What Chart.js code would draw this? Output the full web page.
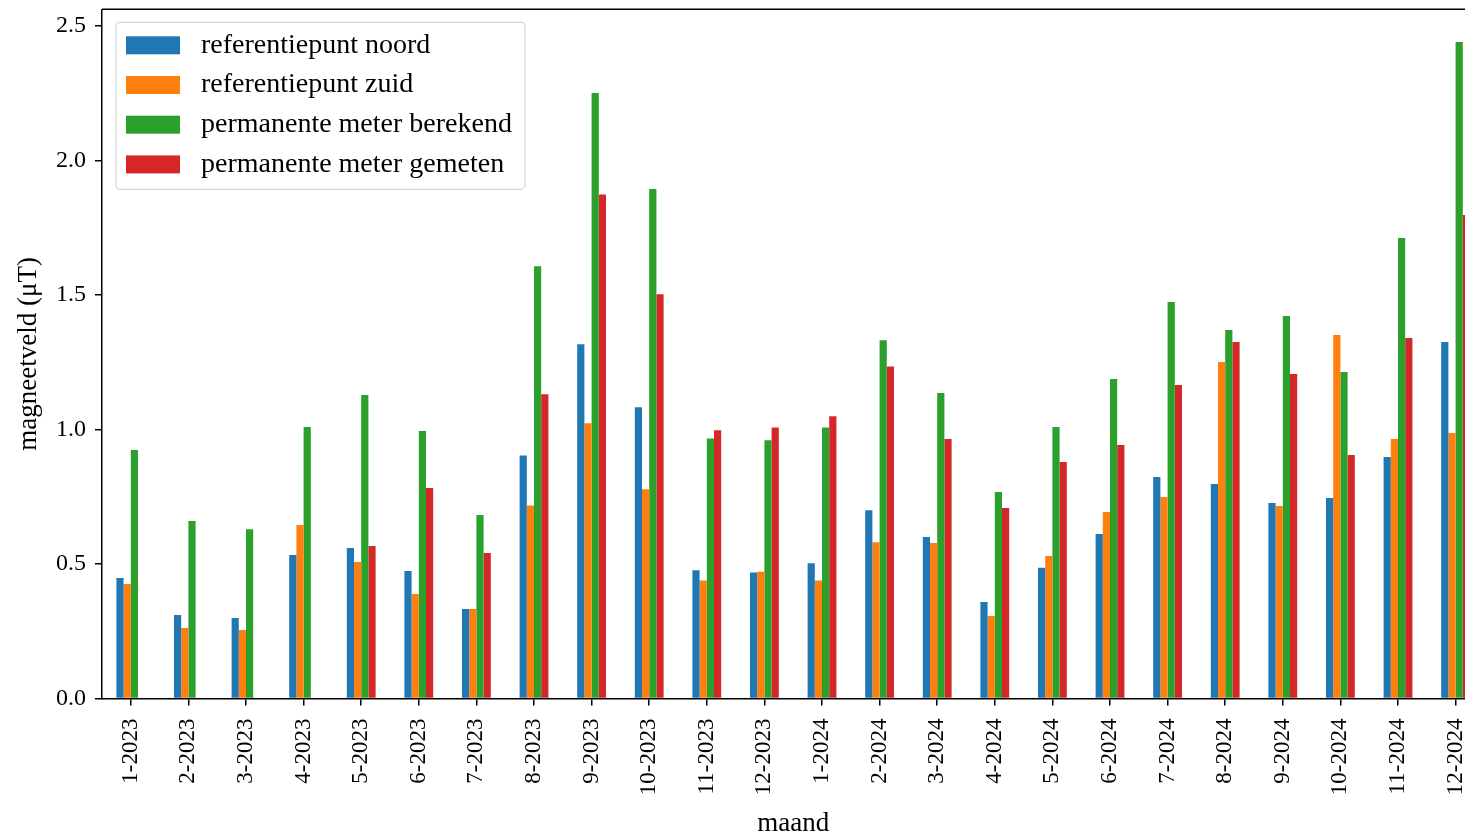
<!DOCTYPE html>
<html>
<head>
<meta charset="utf-8">
<script src="https://cdn.jsdelivr.net/npm/chart.js@4.4.1/dist/chart.umd.min.js"></script>
<style>
  html, body { margin: 0; padding: 0; overflow: hidden; background: #fff; width: 1465px; height: 837px; }
  #wrap { position: absolute; left: 0; top: 0; width: 1490px; height: 837px; }
</style>
</head>
<body>
<div id="wrap"><canvas id="c" width="1490" height="837"></canvas></div>
<script>
const months = ["1-2023","2-2023","3-2023","4-2023","5-2023","6-2023","7-2023","8-2023","9-2023","10-2023","11-2023","12-2023",
                "1-2024","2-2024","3-2024","4-2024","5-2024","6-2024","7-2024","8-2024","9-2024","10-2024","11-2024","12-2024"];
const refNoord = [0.448,0.311,0.300,0.534,0.560,0.474,0.333,0.904,1.317,1.083,0.477,0.469,
                  0.503,0.700,0.601,0.359,0.486,0.612,0.824,0.798,0.727,0.746,0.898,1.326];
const refZuid  = [0.426,0.262,0.255,0.645,0.508,0.389,0.333,0.718,1.024,0.778,0.439,0.472,
                  0.439,0.581,0.578,0.307,0.530,0.694,0.749,1.251,0.716,1.352,0.965,0.987];
const permBerekend = [0.924,0.660,0.630,1.010,1.129,0.995,0.683,1.607,2.251,1.894,0.967,0.960,
                      1.008,1.332,1.136,0.768,1.010,1.188,1.474,1.370,1.422,1.214,1.712,2.441];
const permGemeten  = [null,null,null,null,0.567,0.783,0.541,1.131,1.874,1.503,0.998,1.008,
                      1.050,1.235,0.965,0.709,0.880,0.943,1.166,1.326,1.207,0.906,1.341,1.798];
const seriesNames = ["referentiepunt noord","referentiepunt zuid","permanente meter berekend","permanente meter gemeten"];
const colors = ["#1f77b4","#ff7f0e","#2ca02c","#d62728"];
const yTickStep = 0.5;
const yMax = 2.5625;

const FONT = "'Liberation Serif', 'DejaVu Serif', serif";

function noPad(s) { s.paddingTop = 0; s.paddingBottom = 0; s.paddingLeft = 0; s.paddingRight = 0; }

const framePlugin = {
  id: 'frame',
  afterDraw(chart) {
    const {ctx, chartArea: a} = chart;
    ctx.save();
    ctx.strokeStyle = '#000';
    ctx.lineWidth = 1.6;
    ctx.beginPath();
    ctx.moveTo(a.left, a.top); ctx.lineTo(a.right, a.top);
    ctx.moveTo(a.right, a.top); ctx.lineTo(a.right, a.bottom);
    ctx.stroke();
    ctx.restore();
  }
};

const legendPlugin = {
  id: 'innerLegend',
  afterDraw(chart) {
    const ctx = chart.ctx;
    const a = chart.chartArea;
    const x0 = a.left + 14, y0 = a.top + 13, w = 409, h = 167;
    ctx.save();
    ctx.fillStyle = 'rgba(255,255,255,0.8)';
    ctx.strokeStyle = '#d4d4d4';
    ctx.lineWidth = 1.2;
    ctx.beginPath();
    ctx.roundRect(x0, y0, w, h, 4);
    ctx.fill(); ctx.stroke();
    ctx.font = "28px " + FONT;
    ctx.textBaseline = 'middle';
    chart.data.datasets.forEach((ds, i) => {
      const cy = y0 + 23 + i * 39.7;
      ctx.fillStyle = ds.backgroundColor;
      ctx.fillRect(x0 + 10, cy - 9, 54, 18);
      ctx.fillStyle = '#000';
      ctx.fillText(ds.label, x0 + 85, cy);
    });
    ctx.restore();
  }
};

const datasets = [refNoord, refZuid, permBerekend, permGemeten].map((d, i) => ({
  label: seriesNames[i],
  data: d,
  backgroundColor: colors[i],
  borderWidth: 0,
  categoryPercentage: 0.5,
  barPercentage: 1.0
}));

new Chart(document.getElementById('c'), {
  type: 'bar',
  data: { labels: months, datasets },
  options: {
    responsive: false,
    animation: false,
    devicePixelRatio: 1,
    layout: { padding: { left: 0, top: 9.3, right: 5.6, bottom: 0 } },
    plugins: { legend: { display: false }, tooltip: { enabled: false } },
    scales: {
      x: {
        afterFit(s) { s.height = 837 - 698.6; noPad(s); },
        grid: { display: true, drawOnChartArea: false, offset: false, color: '#000', lineWidth: 1.5, tickLength: 7 },
        border: { display: true, color: '#000', width: 1.5 },
        ticks: { color: '#000', font: { family: FONT, size: 23 }, minRotation: 90, maxRotation: 90, padding: 13, autoSkip: false },
        title: { display: true, text: 'maand', color: '#000', font: { family: FONT, size: 27, lineHeight: 1 }, padding: { top: 0, bottom: 0 } }
      },
      y: {
        min: 0, max: yMax,
        afterFit(s) { s.width = 102; noPad(s); },
        grid: { display: true, drawOnChartArea: false, color: '#000', lineWidth: 1.5, tickLength: 7 },
        border: { display: true, color: '#000', width: 1.5 },
        ticks: { stepSize: yTickStep, includeBounds: false, color: '#000', font: { family: FONT, size: 24 }, padding: 9,
                 callback: v => Number(v).toFixed(1) },
        title: { display: true, text: 'magneetveld (μT)', color: '#000', font: { family: FONT, size: 27 }, padding: { top: 13, bottom: 0 } }
      }
    }
  },
  plugins: [framePlugin, legendPlugin]
});
</script>
</body>
</html>
